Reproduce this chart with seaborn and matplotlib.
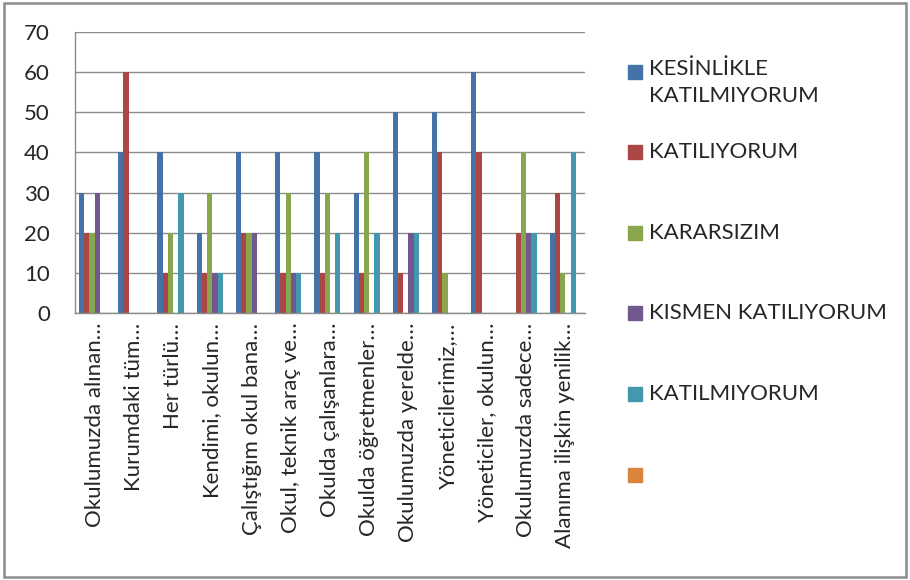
import matplotlib
matplotlib.use('Agg')
import matplotlib.pyplot as plt
from matplotlib.patches import Rectangle
import seaborn as sns
import pandas as pd

# question labels (truncated as in the original chart)
categories = [
    "Okulumuzda alınan…", "Kurumdaki tüm…", "Her türlü…", "Kendimi, okulun…",
    "Çalıştığım okul bana…", "Okul, teknik araç ve…", "Okulda çalışanlara…",
    "Okulda öğretmenler…", "Okulumuzda yerelde…", "Yöneticilerimiz,…",
    "Yöneticiler, okulun…", "Okulumuzda sadece…", "Alanıma ilişkin yenilik…",
]

series = ["KESİNLİKLE KATILMIYORUM", "KATILIYORUM", "KARARSIZIM",
          "KISMEN KATILIYORUM", "KATILMIYORUM", " "]
legend_labels = ["KESİNLİKLE\nKATILMIYORUM", "KATILIYORUM", "KARARSIZIM",
                 "KISMEN KATILIYORUM", "KATILMIYORUM", ""]

kesinlikle_katilmiyorum = [30, 40, 40, 20, 40, 40, 40, 30, 50, 50, 60, 0, 20]
katiliyorum = [20, 60, 10, 10, 20, 10, 10, 10, 10, 40, 40, 20, 30]
kararsizim = [20, 0, 20, 30, 20, 30, 30, 40, 0, 10, 0, 40, 10]
kismen_katiliyorum = [30, 0, 0, 10, 20, 10, 0, 0, 20, 0, 0, 20, 0]
katilmiyorum = [0, 0, 30, 10, 0, 10, 20, 20, 20, 0, 0, 20, 40]
bos = [0] * 13  # empty sixth series

colors = ["#4572A7", "#AA4643", "#89A54E", "#71588F", "#4198AF", "#DB843D"]

values = [kesinlikle_katilmiyorum, katiliyorum, kararsizim,
          kismen_katiliyorum, katilmiyorum, bos]
rows = []
for s, vals in zip(series, values):
    for c, v in zip(categories, vals):
        rows.append({"soru": c, "seri": s, "deger": v})
df = pd.DataFrame(rows)

sns.set_style("white")
plt.rcParams['font.family'] = ['Lato', 'DejaVu Sans']

fig = plt.figure(figsize=(9.1, 5.8), dpi=100)
ax = fig.add_axes([75 / 910, 1 - 313 / 580, 510 / 910, 281 / 580])

sns.barplot(data=df, x="soru", y="deger", hue="seri", order=categories,
            hue_order=series, palette=colors, saturation=1, width=0.8,
            gap=0, linewidth=0, legend=False, ax=ax)

ax.set_xlim(-0.5, len(categories) - 0.5)
ax.set_ylim(0, 70)
ax.set_yticks(range(0, 71, 10))
ax.yaxis.grid(True, color="#8c8c8c", linewidth=1)
ax.set_axisbelow(True)
ax.set_xlabel("")
ax.set_ylabel("")

for side in ["top", "right"]:
    ax.spines[side].set_visible(False)
for side in ["left", "bottom"]:
    ax.spines[side].set_color("#8c8c8c")
    ax.spines[side].set_linewidth(1)

ax.tick_params(axis="y", length=6, color="#8c8c8c", labelsize=16, pad=12)
ax.set_xticks(range(len(categories)))
ax.set_xticklabels(categories, rotation=90, fontsize=16)
ax.tick_params(axis="x", which="major", length=0, pad=7)
ax.set_xticks([i - 0.5 for i in range(len(categories) + 1)], minor=True)
ax.tick_params(axis="x", which="minor", length=6, color="#8c8c8c")

# legend on the right, Excel style
legend_y = [72, 152, 233, 313, 394, 475]
for lab, col, y in zip(legend_labels, colors, legend_y):
    fig.patches.append(Rectangle((628 / 910, 1 - (y + 7) / 580), 14 / 910, 14 / 580,
                                 transform=fig.transFigure, color=col))
    if "\n" in lab:
        fig.text(649 / 910, 1 - (y - 13) / 580, lab, fontsize=16, va="top",
                 linespacing=1.45)
    else:
        fig.text(649 / 910, 1 - y / 580, lab, fontsize=16, va="center")

# outer chart border
fig.patches.append(Rectangle((4 / 910, 3 / 580), 902 / 910, 574 / 580,
                             transform=fig.transFigure, fill=False,
                             edgecolor="#8c8c8c", linewidth=1.8))

fig.savefig("out.png", dpi=100)
